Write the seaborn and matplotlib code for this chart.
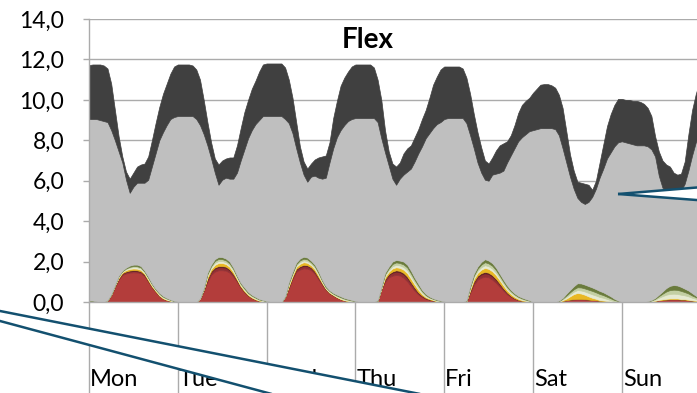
import numpy as np
import matplotlib
matplotlib.use("Agg")
import matplotlib.pyplot as plt
import matplotlib.transforms as mtransforms
from matplotlib.patches import Polygon
from matplotlib.lines import Line2D
import seaborn as sns

# ---------------- data (hourly, Mon..Sun) ----------------
days = ["Mon", "Tue", "Wed", "Thu", "Fri", "Sat", "Sun"]
title = "Flex"
y_ticks = [0, 2, 4, 6, 8, 10, 12, 14]
y_tick_labels = ["0,0", "2,0", "4,0", "6,0", "8,0", "10,0", "12,0", "14,0"]

# top of the dark-grey band (total)
dark_top = [
    11.72, 11.75, 11.75, 11.75, 11.7, 11.55, 10.8, 9.5, 8.2, 7.2, 6.45, 6.1, 6.4, 6.7, 6.8, 6.85, 7.2, 8.0, 8.85, 9.65, 10.3, 10.8, 11.3, 11.65,
    11.75, 11.75, 11.75, 11.75, 11.7, 11.5, 11.0, 10.0, 8.9, 7.9, 7.1, 6.8, 7.0, 7.1, 7.15, 7.15, 7.75, 8.6, 9.4, 10.0, 10.55, 10.95, 11.4, 11.75,
    11.8, 11.8, 11.8, 11.8, 11.8, 11.6, 11.0, 10.1, 8.9, 7.7, 6.95, 6.6, 6.85, 7.05, 7.15, 7.2, 7.25, 7.9, 9.1, 9.95, 10.7, 11.1, 11.4, 11.65,
    11.75, 11.75, 11.75, 11.75, 11.75, 11.6, 11.0, 10.0, 8.5, 7.45, 6.85, 6.7, 6.9, 7.35, 7.6, 7.75, 8.15, 8.55, 9.05, 9.5, 10.1, 10.75, 11.15, 11.5,
    11.65, 11.65, 11.65, 11.65, 11.65, 11.55, 11.1, 10.3, 9.3, 8.4, 7.65, 7.0, 6.85, 7.15, 7.5, 7.75, 7.85, 7.95, 8.25, 8.75, 9.35, 9.75, 9.95, 10.1,
    10.35, 10.55, 10.75, 10.78, 10.78, 10.72, 10.6, 10.25, 9.6, 8.45, 7.3, 6.5, 5.95, 5.9, 5.85, 5.8, 5.55, 6.0, 6.9, 7.8, 8.7, 9.3, 9.75, 10.05,
    10.05, 10.0, 10.0, 9.95, 9.95, 9.9, 9.8, 9.6, 9.2, 8.2, 7.45, 7.0, 6.8, 6.7, 6.4, 6.3, 6.35, 6.95, 8.3, 9.5, 10.3, 10.9, 11.3, 11.6,
]
# top of the light-grey band
grey_top = [
    9.05, 9.05, 9.05, 9.0, 8.95, 8.9, 8.5, 8.0, 7.45, 6.9, 6.05, 5.4, 5.7, 5.9, 5.9, 5.9, 6.05, 6.7, 7.35, 8.0, 8.4, 8.75, 9.05, 9.15,
    9.2, 9.2, 9.2, 9.2, 9.2, 9.05, 8.75, 8.3, 7.75, 7.1, 6.4, 5.8, 6.05, 6.15, 6.1, 6.1, 6.4, 7.0, 7.55, 8.1, 8.5, 8.8, 9.0, 9.2,
    9.2, 9.2, 9.2, 9.2, 9.2, 9.05, 8.85, 8.35, 7.6, 6.9, 6.3, 5.95, 6.2, 6.25, 6.15, 6.1, 6.15, 6.9, 7.6, 8.15, 8.5, 8.75, 8.95, 9.05,
    9.1, 9.1, 9.1, 9.1, 9.1, 9.1, 8.9, 8.1, 7.4, 6.75, 6.1, 5.8, 6.1, 6.3, 6.45, 6.6, 6.95, 7.35, 7.7, 8.1, 8.35, 8.6, 8.8, 8.9,
    9.05, 9.1, 9.1, 9.1, 9.1, 9.1, 8.85, 8.25, 7.6, 6.9, 6.4, 6.05, 6.0, 6.3, 6.35, 6.4, 6.5, 6.9, 7.25, 7.6, 7.95, 8.15, 8.3, 8.45,
    8.5, 8.55, 8.6, 8.6, 8.6, 8.6, 8.55, 8.25, 7.6, 6.9, 6.2, 5.6, 5.15, 4.95, 4.85, 4.95, 5.2, 5.6, 6.15, 6.6, 7.1, 7.4, 7.7, 7.9,
    7.95, 7.9, 7.85, 7.8, 7.75, 7.75, 7.75, 7.7, 7.55, 7.2, 6.25, 5.65, 5.55, 5.5, 5.5, 5.5, 5.5, 5.85, 6.5, 7.25, 7.9, 8.3, 8.7, 8.9,
]
z24 = [0] * 24
pink = (z24 * 5
        + [0, 0, 0, 0, 0, 0, 0, 0, 0.02, 0.03, 0.04, 0.04, 0.04, 0.04, 0.04, 0.04, 0.03, 0.03, 0.02, 0.02, 0.01, 0, 0, 0]
        + [0, 0, 0, 0, 0, 0, 0, 0, 0.01, 0.02, 0.03, 0.03, 0.03, 0.04, 0.04, 0.04, 0.03, 0.03, 0.02, 0.02, 0.01, 0, 0, 0])
red = [
    0, 0, 0, 0, 0, 0.08, 0.35, 0.75, 1.1, 1.34, 1.41, 1.45, 1.47, 1.46, 1.42, 1.28, 1.0, 0.72, 0.5, 0.3, 0.17, 0.1, 0.05, 0.02,
    0, 0, 0, 0, 0, 0, 0.15, 0.55, 1.0, 1.35, 1.5, 1.57, 1.57, 1.55, 1.45, 1.25, 1.0, 0.7, 0.48, 0.3, 0.2, 0.12, 0.06, 0.03,
    0, 0, 0, 0, 0, 0.25, 0.68, 1.15, 1.5, 1.6, 1.67, 1.65, 1.58, 1.4, 1.12, 0.85, 0.6, 0.42, 0.32, 0.22, 0.14, 0.08, 0.04, 0.02,
    0, 0, 0, 0, 0, 0, 0.05, 0.6, 1.0, 1.22, 1.3, 1.34, 1.31, 1.2, 1.02, 0.78, 0.55, 0.36, 0.24, 0.15, 0.1, 0.06, 0.03, 0.01,
    0, 0, 0, 0, 0, 0, 0.03, 0.45, 0.85, 1.1, 1.2, 1.25, 1.22, 1.1, 0.95, 0.75, 0.55, 0.38, 0.25, 0.15, 0.08, 0.05, 0.03, 0.01,
    0, 0, 0, 0, 0, 0, 0, 0.01, 0.03, 0.05, 0.07, 0.08, 0.09, 0.09, 0.08, 0.07, 0.06, 0.05, 0.04, 0.03, 0.02, 0.01, 0, 0,
    0, 0, 0, 0, 0, 0, 0, 0.01, 0.02, 0.04, 0.06, 0.07, 0.08, 0.09, 0.09, 0.09, 0.08, 0.08, 0.07, 0.05, 0.04, 0.02, 0.01, 0,
]
darkred = [
    0, 0, 0, 0, 0, 0, 0.01, 0.03, 0.05, 0.06, 0.07, 0.07, 0.07, 0.07, 0.07, 0.05, 0.04, 0.03, 0.02, 0.01, 0, 0, 0, 0,
    0, 0, 0, 0, 0, 0, 0.01, 0.04, 0.1, 0.13, 0.15, 0.15, 0.15, 0.14, 0.12, 0.1, 0.06, 0.04, 0.03, 0.02, 0.01, 0, 0, 0,
    0, 0, 0, 0, 0, 0.01, 0.05, 0.06, 0.1, 0.12, 0.12, 0.12, 0.1, 0.09, 0.08, 0.05, 0.03, 0.02, 0.01, 0.01, 0, 0, 0, 0,
    0, 0, 0, 0, 0, 0, 0.01, 0.03, 0.1, 0.12, 0.15, 0.16, 0.16, 0.17, 0.17, 0.15, 0.12, 0.08, 0.05, 0.03, 0.02, 0.01, 0, 0,
    0, 0, 0, 0, 0, 0, 0.01, 0.07, 0.12, 0.14, 0.16, 0.17, 0.16, 0.16, 0.14, 0.12, 0.09, 0.06, 0.04, 0.03, 0.02, 0.01, 0, 0,
    0, 0, 0, 0, 0, 0, 0, 0, 0, 0.01, 0.01, 0.02, 0.02, 0.02, 0.02, 0.01, 0.01, 0.01, 0, 0, 0, 0, 0, 0,
    0, 0, 0, 0, 0, 0, 0, 0, 0, 0, 0, 0.01, 0.01, 0.01, 0.01, 0.01, 0.01, 0.01, 0, 0, 0, 0, 0, 0,
]
maroon = [
    0, 0, 0, 0, 0, 0, 0, 0.01, 0.02, 0.03, 0.03, 0.04, 0.04, 0.04, 0.03, 0.03, 0.02, 0.01, 0.01, 0, 0, 0, 0, 0,
    0, 0, 0, 0, 0, 0, 0.01, 0.02, 0.05, 0.05, 0.06, 0.06, 0.06, 0.06, 0.05, 0.04, 0.03, 0.02, 0.01, 0.01, 0, 0, 0, 0,
    0, 0, 0, 0, 0, 0, 0.03, 0.03, 0.04, 0.05, 0.05, 0.05, 0.04, 0.04, 0.03, 0.02, 0.01, 0.01, 0.01, 0, 0, 0, 0, 0,
    0, 0, 0, 0, 0, 0, 0, 0.01, 0.04, 0.05, 0.06, 0.07, 0.07, 0.07, 0.07, 0.06, 0.05, 0.04, 0.03, 0.02, 0.01, 0.01, 0, 0,
    0, 0, 0, 0, 0, 0, 0, 0.03, 0.05, 0.06, 0.07, 0.07, 0.07, 0.07, 0.06, 0.05, 0.04, 0.03, 0.02, 0.01, 0.01, 0, 0, 0,
] + z24 + z24
yellow = [
    0.02, 0.02, 0.01, 0, 0, 0.01, 0.02, 0.03, 0.05, 0.05, 0.07, 0.08, 0.08, 0.08, 0.07, 0.06, 0.06, 0.05, 0.04, 0.03, 0.03, 0.02, 0.02, 0.01,
    0.01, 0.01, 0, 0, 0, 0, 0.01, 0.03, 0.1, 0.1, 0.13, 0.15, 0.15, 0.13, 0.12, 0.1, 0.06, 0.05, 0.05, 0.04, 0.03, 0.03, 0.02, 0.02,
    0.01, 0.01, 0, 0, 0, 0.01, 0.07, 0.08, 0.1, 0.12, 0.13, 0.12, 0.1, 0.1, 0.09, 0.05, 0.03, 0.03, 0.02, 0.02, 0.02, 0.02, 0.02, 0.01,
    0.01, 0, 0, 0, 0, 0, 0.01, 0.03, 0.1, 0.11, 0.15, 0.15, 0.15, 0.16, 0.17, 0.17, 0.15, 0.13, 0.08, 0.05, 0.04, 0.03, 0.02, 0.01,
    0.01, 0, 0, 0, 0, 0, 0.01, 0.08, 0.12, 0.14, 0.17, 0.2, 0.19, 0.19, 0.18, 0.16, 0.14, 0.11, 0.09, 0.07, 0.05, 0.04, 0.03, 0.02,
    0, 0, 0, 0, 0, 0, 0, 0.01, 0.04, 0.08, 0.16, 0.25, 0.3, 0.27, 0.22, 0.16, 0.11, 0.07, 0.04, 0.03, 0.02, 0.01, 0, 0,
    0, 0, 0, 0, 0, 0, 0, 0, 0.01, 0.01, 0.02, 0.03, 0.04, 0.04, 0.04, 0.04, 0.03, 0.03, 0.03, 0.02, 0.02, 0.01, 0.01, 0,
]
cream = [
    0.04, 0.03, 0.02, 0.01, 0, 0.01, 0.01, 0.02, 0.04, 0.03, 0.05, 0.06, 0.07, 0.07, 0.07, 0.05, 0.05, 0.04, 0.03, 0.04, 0.03, 0.03, 0.02, 0.01,
    0.01, 0.01, 0, 0, 0, 0, 0.01, 0.02, 0.07, 0.08, 0.1, 0.1, 0.1, 0.09, 0.09, 0.08, 0.06, 0.05, 0.05, 0.04, 0.04, 0.03, 0.02, 0.02,
    0.02, 0.01, 0, 0, 0, 0.01, 0.06, 0.06, 0.07, 0.09, 0.09, 0.09, 0.08, 0.08, 0.07, 0.05, 0.03, 0.04, 0.03, 0.03, 0.04, 0.03, 0.03, 0.02,
    0.02, 0.01, 0, 0, 0, 0, 0.01, 0.03, 0.07, 0.08, 0.11, 0.12, 0.12, 0.13, 0.14, 0.13, 0.11, 0.1, 0.07, 0.05, 0.03, 0.02, 0.02, 0.02,
    0.01, 0.01, 0, 0, 0, 0, 0.01, 0.06, 0.09, 0.1, 0.12, 0.13, 0.13, 0.13, 0.12, 0.11, 0.09, 0.08, 0.07, 0.06, 0.05, 0.04, 0.03, 0.02,
    0, 0, 0, 0, 0, 0, 0, 0.01, 0.04, 0.08, 0.1, 0.12, 0.14, 0.15, 0.16, 0.17, 0.17, 0.16, 0.15, 0.13, 0.1, 0.07, 0.04, 0.02,
    0, 0, 0, 0, 0, 0, 0, 0.01, 0.02, 0.05, 0.1, 0.15, 0.2, 0.22, 0.23, 0.22, 0.21, 0.18, 0.16, 0.12, 0.09, 0.06, 0.03, 0.02,
]
sage = [
    0.01, 0.01, 0, 0, 0, 0, 0.01, 0.01, 0.02, 0.02, 0.03, 0.04, 0.05, 0.05, 0.05, 0.04, 0.04, 0.04, 0.03, 0.04, 0.04, 0.03, 0.02, 0.01,
    0, 0, 0, 0, 0, 0, 0.01, 0.02, 0.06, 0.07, 0.09, 0.1, 0.09, 0.09, 0.08, 0.07, 0.05, 0.05, 0.05, 0.04, 0.04, 0.04, 0.03, 0.02,
    0.01, 0, 0, 0, 0, 0.01, 0.05, 0.05, 0.06, 0.08, 0.08, 0.08, 0.07, 0.07, 0.06, 0.04, 0.03, 0.03, 0.03, 0.04, 0.04, 0.04, 0.03, 0.03,
    0.01, 0, 0, 0, 0, 0, 0.01, 0.03, 0.07, 0.08, 0.11, 0.12, 0.12, 0.13, 0.14, 0.13, 0.12, 0.1, 0.07, 0.05, 0.03, 0.03, 0.03, 0.02,
    0.01, 0, 0, 0, 0, 0, 0.01, 0.05, 0.08, 0.1, 0.13, 0.15, 0.14, 0.14, 0.13, 0.11, 0.1, 0.08, 0.07, 0.06, 0.05, 0.04, 0.03, 0.02,
    0, 0, 0, 0, 0, 0, 0, 0.02, 0.04, 0.07, 0.1, 0.12, 0.14, 0.15, 0.15, 0.16, 0.17, 0.16, 0.15, 0.13, 0.11, 0.09, 0.06, 0.03,
    0, 0, 0, 0, 0, 0, 0, 0.01, 0.02, 0.04, 0.08, 0.12, 0.16, 0.19, 0.2, 0.2, 0.19, 0.16, 0.14, 0.11, 0.08, 0.05, 0.03, 0.02,
]
olive = [
    0.01, 0.01, 0, 0, 0, 0, 0, 0, 0.02, 0.02, 0.04, 0.06, 0.07, 0.08, 0.07, 0.04, 0.04, 0.03, 0.02, 0.03, 0.03, 0.02, 0.01, 0.01,
    0, 0, 0, 0, 0, 0, 0, 0.02, 0.07, 0.07, 0.09, 0.1, 0.1, 0.09, 0.09, 0.06, 0.04, 0.04, 0.05, 0.05, 0.03, 0.03, 0.02, 0.01,
    0.01, 0, 0, 0, 0, 0.01, 0.06, 0.07, 0.08, 0.09, 0.1, 0.09, 0.08, 0.07, 0.07, 0.04, 0.05, 0.03, 0.03, 0.04, 0.04, 0.03, 0.03, 0.02,
    0.01, 0, 0, 0, 0, 0, 0.01, 0.02, 0.07, 0.09, 0.12, 0.12, 0.12, 0.14, 0.14, 0.13, 0.1, 0.09, 0.06, 0.05, 0.04, 0.02, 0.02, 0.01,
    0, 0, 0, 0, 0, 0, 0.01, 0.06, 0.09, 0.11, 0.13, 0.15, 0.14, 0.13, 0.12, 0.1, 0.09, 0.08, 0.06, 0.05, 0.04, 0.04, 0.03, 0.02,
    0, 0, 0, 0, 0, 0, 0, 0.02, 0.03, 0.09, 0.12, 0.15, 0.2, 0.2, 0.19, 0.18, 0.17, 0.16, 0.15, 0.14, 0.12, 0.1, 0.06, 0.02,
    0, 0, 0, 0, 0, 0, 0, 0.01, 0.02, 0.04, 0.07, 0.11, 0.17, 0.21, 0.23, 0.22, 0.2, 0.17, 0.15, 0.12, 0.07, 0.05, 0.03, 0.01,
]

colored_layers = [pink, red, darkred, maroon, yellow, cream, sage, olive]
colored_colors = ["#A84C7C", "#B33D3B", "#922F33", "#5C1E22", "#E9B824", "#E6EAD2", "#C3CFA3", "#6A7B3C"]
grey_color = "#BFBFBF"
dark_color = "#404040"
grid_color = "#ABABAB"
callout_color = "#13506F"

# ---------------- figure ----------------
sns.set_theme(style="white")
plt.rcParams["font.family"] = ["Lato", "DejaVu Sans"]

W, H = 697, 393
fig = plt.figure(figsize=(W / 100, H / 100), dpi=100)
fig.patch.set_facecolor("white")
ax_left, ax_bottom, ax_right, ax_top = 89, 302, 710.6, 19
ax = fig.add_axes([ax_left / W, (H - ax_bottom) / H, (ax_right - ax_left) / W, (ax_bottom - ax_top) / H])
ax.set_facecolor("white")

n = len(dark_top)
x = np.arange(n)
colored = np.array(colored_layers, dtype=float)
colored_sum = colored.sum(axis=0)
grey_band = np.clip(np.array(grey_top) - colored_sum, 0, None)
dark_band = np.clip(np.array(dark_top) - np.array(grey_top), 0, None)

layers = list(colored) + [grey_band, dark_band]
colors = colored_colors + [grey_color, dark_color]
polys = ax.stackplot(x, layers, colors=colors, zorder=2)
for p, c in zip(polys, colors):
    p.set_edgecolor(c)
    p.set_linewidth(0.5)

ax.set_xlim(0, n)
ax.set_ylim(0, 14)
ax.set_yticks(y_ticks)
ax.set_yticklabels(y_tick_labels, fontsize=16.5, color="black")
ax.set_xticks([])
ax.yaxis.grid(True, color=grid_color, lw=1.0, zorder=0)
ax.set_axisbelow(True)
sns.despine(ax=ax, top=True, right=True)
for s in ("left", "bottom"):
    ax.spines[s].set_color(grid_color)
    ax.spines[s].set_linewidth(1.0)
ax.tick_params(axis="y", direction="out", length=4, width=1.0, color=grid_color, pad=14, left=True)

# category axis: day separators and labels
trans = mtransforms.blended_transform_factory(ax.transData, ax.transAxes)
for i in range(len(days) + 1):
    ax.plot([i * 24, i * 24], [0, -0.4], transform=trans, clip_on=False,
            color=grid_color, lw=1.0, zorder=1)
for i, d in enumerate(days):
    ax.text(i * 24 + 0.25, -0.297, d, transform=trans, ha="left", va="baseline",
            fontsize=17, color="black", clip_on=False)

fig.text(368 / W, 1 - 40 / H, title, ha="center", va="center",
         fontsize=20, fontweight="bold", color="black")

# ---------------- callout pointers (overlay shapes) ----------------
def fpt(px, py):
    return (px / W, 1 - py / H)

def lineA(px):
    return 311 + 0.1976 * px

def lineB(px):
    return 321 + 0.2687 * px

wedge_left = [fpt(-10, lineA(-10)), fpt(470, lineA(470)), fpt(320, lineB(320)), fpt(-10, lineB(-10))]
fig.add_artist(Polygon(wedge_left, closed=True, transform=fig.transFigure,
                       facecolor="white", edgecolor="none", zorder=10))
fig.add_artist(Line2D([fpt(-10, 0)[0], fpt(470, 0)[0]], [fpt(0, lineA(-10))[1], fpt(0, lineA(470))[1]],
                      transform=fig.transFigure, color=callout_color, lw=1.8, zorder=11))
fig.add_artist(Line2D([fpt(-10, 0)[0], fpt(320, 0)[0]], [fpt(0, lineB(-10))[1], fpt(0, lineB(320))[1]],
                      transform=fig.transFigure, color=callout_color, lw=1.8, zorder=11))

tip = (618, 194)
up_end = (720, 185.6)
lo_end = (720, 201.8)
fig.add_artist(Polygon([fpt(*tip), fpt(*up_end), fpt(*lo_end)], closed=True, transform=fig.transFigure,
                       facecolor="white", edgecolor="none", zorder=10))
for end in (up_end, lo_end):
    fig.add_artist(Line2D([fpt(*tip)[0], fpt(*end)[0]], [fpt(*tip)[1], fpt(*end)[1]],
                          transform=fig.transFigure, color=callout_color, lw=1.8,
                          solid_capstyle="butt", zorder=11))

fig.savefig("out.png", dpi=100, facecolor="white")
